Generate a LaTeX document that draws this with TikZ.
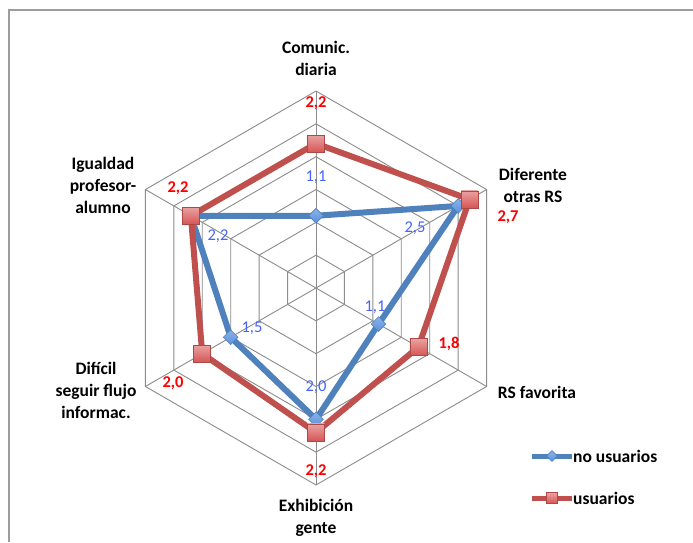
\documentclass[tikz,border=0pt]{standalone}
\usepackage{fontspec}
\setmainfont{Carlito}
\usetikzlibrary{shapes.geometric,calc}

\definecolor{serieblue}{RGB}{79,129,189}
\definecolor{seriered}{RGB}{192,80,77}
\definecolor{markred}{RGB}{215,85,85}
\definecolor{markblue}{RGB}{90,145,220}
\definecolor{gridgray}{RGB}{140,140,140}
\definecolor{lblblue}{RGB}{70,100,250}

\begin{document}
\begin{tikzpicture}[x=1pt,y=1pt,
  gridline/.style={draw=gridgray, line width=0.9},
  axislbl/.style={font=\fontsize{17.5}{22}\selectfont\bfseries, align=center, inner sep=0},
  bluelbl/.style={font=\fontsize{16.5}{20}\selectfont, text=lblblue, inner sep=0},
  redlbl/.style={font=\fontsize{16.5}{20}\selectfont\bfseries, text=red, inner sep=0},
  blueline/.style={draw=serieblue, line width=6, line join=round},
  redline/.style={draw=seriered, line width=6, line join=round},
  bluemark/.style={diamond, draw=serieblue, line width=0.6, top color=markblue!70!white, bottom color=markblue, minimum size=#1, inner sep=0},
  redmark/.style={rectangle, draw=seriered!90!black, line width=0.6, top color=markred!55!white, bottom color=markred, minimum size=#1, inner sep=0},
  legtext/.style={font=\fontsize{17.5}{22}\selectfont\bfseries, anchor=west, inner sep=0}]

\fill[white] (-316,-254) rectangle (377,288);
\useasboundingbox (-316,-254) rectangle (377,288);
\draw[gridgray!85, line width=1.3] (-307,-254) -- (-307,278) -- (377,278);

\foreach \k in {1,...,6}
  \draw[gridline] (90:{\k*32.83}) -- (30:{\k*32.83}) -- (-30:{\k*32.83}) -- (-90:{\k*32.83}) -- (-150:{\k*32.83}) -- (150:{\k*32.83}) -- cycle;
\foreach \a in {90,30,-30,-90,-150,150}
  \draw[gridline] (0,0) -- (\a:197);

\foreach \v [count=\i] in {1.1,2.5,1.1,2.0,1.5,2.2}
  \coordinate (n\i) at ({150-60*\i}:{\v*65.67});
\foreach \v [count=\i] in {2.2,2.7,1.8,2.2,2.0,2.2}
  \coordinate (u\i) at ({150-60*\i}:{\v*65.67});

\draw[blueline] (n1) -- (n2) -- (n3) -- (n4) -- (n5) -- (n6) -- cycle;
\foreach \i in {1,...,6}
  \node[bluemark=15] (nm\i) at (n\i) {};
\draw[redline] (u1) -- (u2) -- (u3) -- (u4) -- (u5) -- (u6) -- cycle;
\foreach \i in {1,...,6}
  \node[redmark=17] (um\i) at (u\i) {};

\node[axislbl] (comunic) at (0,229.5) {Comunic.\\diaria};
\node[axislbl] (diferente) at (217,103) {Diferente\\otras RS};
\node[axislbl] (favorita) at (221,-104) {RS favorita};
\node[axislbl] (exhibicion) at (0,-229.5) {Exhibición\\gente};
\node[axislbl] (dificil) at (-220,-102) {Difícil\\seguir flujo\\informac.};
\node[axislbl] (igualdad) at (-213,103) {Igualdad\\profesor-\\alumno};

\node[redlbl] (ul1) at (0,185) {2,2};
\node[redlbl] (ul2) at (192,71) {2,7};
\node[redlbl] (ul3) at (133,-56) {1,8};
\node[redlbl] (ul4) at (0,-183) {2,2};
\node[redlbl] (ul5) at (-143,-95) {2,0};
\node[redlbl] (ul6) at (-138,100) {2,2};
\node[bluelbl] (nl1) at (0,111) {1,1};
\node[bluelbl] (nl2) at (99,60) {2,5};
\node[bluelbl] (nl3) at (59,-19) {1,1};
\node[bluelbl] (nl4) at (0,-99) {2,0};
\node[bluelbl] (nl5) at (-64,-40) {1,5};
\node[bluelbl] (nl6) at (-98,52) {2,2};

\coordinate (lgn1) at (216,-168);
\coordinate (lgn2) at (256,-168);
\draw[serieblue, line width=5] (lgn1) -- (lgn2);
\node[bluemark=11] (lgnm) at ($(lgn1)!0.5!(lgn2)$) {};
\node[legtext] (lgntext) at (257,-168) {no usuarios};
\coordinate (lgu1) at (216,-210);
\coordinate (lgu2) at (256,-210);
\draw[seriered, line width=5] (lgu1) -- (lgu2);
\node[redmark=11] (lgum) at ($(lgu1)!0.5!(lgu2)$) {};
\node[legtext] (lgutext) at (257,-210) {usuarios};
\end{tikzpicture}
\end{document}
